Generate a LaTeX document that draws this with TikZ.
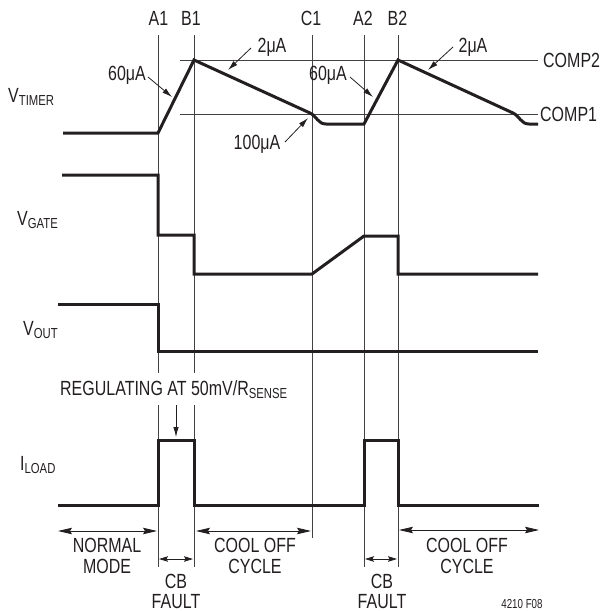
\documentclass[tikz,border=0pt]{standalone}
\usepackage{fontspec}
\setmainfont{Liberation Sans}[FakeStretch=0.78]
\newfontfamily\smallfnt{Liberation Sans}[FakeStretch=0.75]
\usetikzlibrary{arrows.meta}
\definecolor{ink}{HTML}{231F20}
\newcommand\sbs[1]{\raisebox{-3.5pt}{\fontsize{14.5}{14.5}\selectfont #1}}
\begin{document}
\begin{tikzpicture}[x=1pt,y=-1pt,
  wave/.style={line width=3pt,ink},
  guide/.style={line width=0.9pt,ink!85},
  lbl/.style={font=\fontsize{20.5}{22}\selectfont,text=ink,inner sep=0pt},
  ptr/.style={line width=0.8pt,ink,-{Latex[length=10pt,width=5.5pt]}},
  span/.style={line width=0.8pt,ink,{Stealth[length=14pt,width=6.5pt,inset=2pt]}-{Stealth[length=14pt,width=6.5pt,inset=2pt]}},
  spans/.style={line width=0.8pt,ink,{Stealth[length=9pt,width=5.5pt,inset=1.5pt]}-{Stealth[length=9pt,width=5.5pt,inset=1.5pt]}}]
\useasboundingbox (0,0) rectangle (600,611);
% guide lines
\draw[guide] (158,35) -- (158,373) (158,405) -- (158,567);
\draw[guide] (194,35) -- (194,373) (194,405) -- (194,567);
\draw[guide] (312,35) -- (312,538);
\draw[guide] (364,35) -- (364,567);
\draw[guide] (398,35) -- (398,567);
\coordinate (c2a) at (180,60); \coordinate (c2b) at (538,60);
\coordinate (c1a) at (180,114); \coordinate (c1b) at (538,114);
\draw[guide] (c2a) -- (c2b);
\draw[guide] (c1a) -- (c1b);
% top labels
\node[lbl,anchor=base] (lA1) at (158.5,25) {A1};
\node[lbl,anchor=base] (lB1) at (191,25) {B1};
\node[lbl,anchor=base] (lC1) at (311,25) {C1};
\node[lbl,anchor=base] (lA2) at (363,25) {A2};
\node[lbl,anchor=base] (lB2) at (397.5,25) {B2};
\node[lbl,anchor=base west] (lcomp2) at (543,67) {COMP2};
\node[lbl,anchor=base west] (lcomp1) at (540,121) {COMP1};
% signal labels
\node[lbl,anchor=base west] (lvt) at (8,102) {V\sbs{TIMER}};
\node[lbl,anchor=base west] (lvg) at (17,225) {V\sbs{GATE}};
\node[lbl,anchor=base west] (lvo) at (23,335) {V\sbs{OUT}};
\node[lbl,anchor=base west] (lil) at (20,470) {I\sbs{LOAD}};
% waveforms
\draw[wave] (63,133) -- (158,133) -- (194,60) -- (310,113)
  .. controls (317,116.5) and (318,124) .. (326,124) -- (364,124) -- (398,60) -- (513,113)
  .. controls (520,116.5) and (521,124) .. (529,124) -- (538,124);
\draw[wave] (62,175) -- (158,175) -- (158,235) -- (194,235) -- (194,274) -- (312,274)
  -- (364,236) -- (398,236) -- (398,274) -- (538,274);
\draw[wave] (58,304) -- (158,304) -- (158,351) -- (538,351);
\draw[wave] (58,505) -- (158,505) -- (158,440) -- (194,440) -- (194,505) -- (364,505)
  -- (364,440) -- (398,440) -- (398,505) -- (539,505);
% current labels with pointers
\node[lbl,anchor=base] (i60a) at (127,80) {60μA};
\node[lbl,anchor=base] (i2a) at (272,52) {2μA};
\node[lbl,anchor=base] (i100) at (257,149) {100μA};
\node[lbl,anchor=base] (i60b) at (328,80) {60μA};
\node[lbl,anchor=base] (i2b) at (473,52) {2μA};
\coordinate (t60a) at (148,77); \coordinate (h60a) at (172,97);
\coordinate (t2a) at (251,48); \coordinate (h2a) at (228,70);
\coordinate (t100) at (285,142); \coordinate (h100) at (308,118);
\coordinate (t60b) at (350,77); \coordinate (h60b) at (373,97);
\coordinate (t2b) at (453,47); \coordinate (h2b) at (428,70);
\draw[ptr] (t60a) -- (h60a);
\draw[ptr] (t2a) -- (h2a);
\draw[ptr] (t100) -- (h100);
\draw[ptr] (t60b) -- (h60b);
\draw[ptr] (t2b) -- (h2b);
% regulating
\node[lbl,anchor=base west] (reg) at (60,395) {REGULATING AT 50mV/R\sbs{SENSE}};
\coordinate (treg) at (176,405); \coordinate (hreg) at (176,437);
\draw[ptr] (treg) -- (hreg);
% spans
\coordinate (n1) at (58,531); \coordinate (n2) at (157,531);
\coordinate (k1) at (196,531); \coordinate (k2) at (311,531);
\coordinate (m1) at (399,530); \coordinate (m2) at (539,530);
\coordinate (f1) at (159,559); \coordinate (f2) at (193,559);
\coordinate (g1) at (365,559); \coordinate (g2) at (397,559);
\draw[span] (n1) -- (n2);
\draw[span] (k1) -- (k2);
\draw[span] (m1) -- (m2);
\draw[spans] (f1) -- (f2);
\draw[spans] (g1) -- (g2);
\node[lbl,anchor=base] (nm1) at (107,552) {NORMAL};
\node[lbl,anchor=base] (nm2) at (107,573) {MODE};
\node[lbl,anchor=base] (cb1) at (176,588) {CB};
\node[lbl,anchor=base] (fa1) at (176,608) {FAULT};
\node[lbl,anchor=base] (co1) at (255,552) {COOL OFF};
\node[lbl,anchor=base] (cy1) at (255,573) {CYCLE};
\node[lbl,anchor=base] (cb2) at (382,588) {CB};
\node[lbl,anchor=base] (fa2) at (382,608) {FAULT};
\node[lbl,anchor=base] (co2) at (467,552) {COOL OFF};
\node[lbl,anchor=base] (cy2) at (467,573) {CYCLE};
\node[inner sep=0pt,text=ink,font=\smallfnt\fontsize{13}{13}\selectfont,anchor=base] (fig) at (522,608) {4210 F08};
\end{tikzpicture}
\end{document}
